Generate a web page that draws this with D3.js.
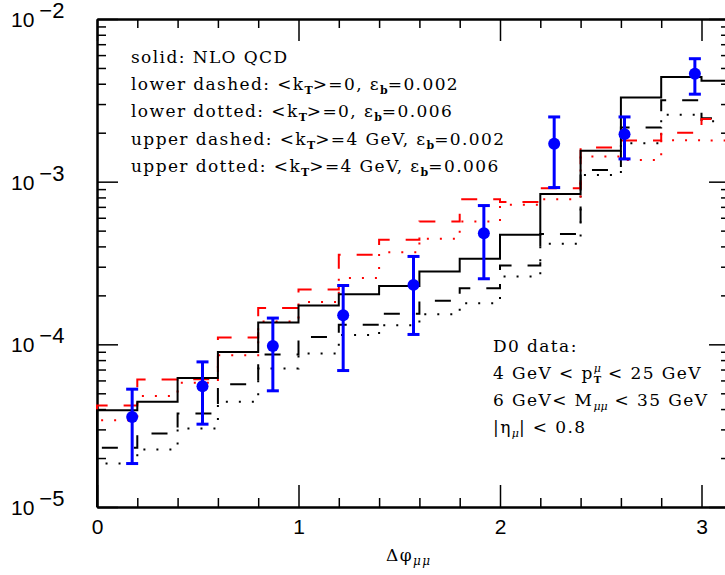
<!DOCTYPE html>
<html lang="en">
<head>
<meta charset="UTF-8">
<title>dphi mu mu</title>
<script src="https://d3js.org/d3.v7.min.js"></script>
<style>
  body { margin: 0; background: #fff; }
  .lbl { font-family: "Liberation Sans", Arial, sans-serif; font-size: 21px; }
  .txt { font-family: "DejaVu Serif", serif; font-size: 17px; letter-spacing: 1.4px; }
</style>
</head>
<body>
<div id="chart"></div>
<script>
// theory histograms, bins of 0.2 in dphi (last bin 3.0 - pi)
var binEdges = [0, 0.2, 0.4, 0.6, 0.8, 1.0, 1.2, 1.4, 1.6, 1.8, 2.0, 2.2, 2.4, 2.6, 2.8, 3.0];
var nloSolid    = [3.94e-5, 4.43e-5, 6.2e-5, 8.97e-5, 1.36e-4, 1.73e-4, 2.03e-4, 2.28e-4, 2.8e-4, 3.36e-4, 4.71e-4, 8.4e-4, 1.55e-3, 3.29e-3, 4.4e-3, 4.17e-3];
var lowerDashed = [2.31e-5, 2.83e-5, 3.76e-5, 5.69e-5, 8.65e-5, 1.11e-4, 1.32e-4, 1.54e-4, 1.85e-4, 2.21e-4, 3.05e-4, 4.77e-4, 1.18e-3, 2.15e-3, 3.17e-3, 2.45e-3];
var lowerDotted = [1.85e-5, 2.26e-5, 3.04e-5, 4.43e-5, 7.1e-5, 8.77e-5, 1.14e-4, 1.31e-4, 1.53e-4, 1.79e-4, 2.61e-4, 4.15e-4, 1.1e-3, 1.72e-3, 2.58e-3, 2.35e-3];
var upperDashed = [4.2e-5, 6.07e-5, 6.1e-5, 1.1e-4, 1.67e-4, 2.17e-4, 3.56e-4, 4.4e-4, 5.7e-4, 7.8e-4, 7.5e-4, 9.1e-4, 1.62e-3, 1.79e-3, 2.0e-3, 2.43e-3];
var upperDotted = [3.42e-5, 4.82e-5, 5.8e-5, 8.57e-5, 1.38e-4, 1.82e-4, 2.56e-4, 3.68e-4, 4.45e-4, 5.7e-4, 7.2e-4, 7.8e-4, 1.43e-3, 1.36e-3, 1.8e-3, 1.79e-3];

// D0 data, 9 bins of pi/9
var d0Center = [0.1745, 0.5236, 0.8727, 1.2217, 1.5708, 1.9199, 2.2689, 2.6180, 2.9671];
var d0Value  = [3.58e-5, 5.52e-5, 9.77e-5, 1.51e-4, 2.32e-4, 4.82e-4, 1.71e-3, 1.96e-3, 4.61e-3];
var d0High   = [5.3e-5, 7.8e-5, 1.45e-4, 2.3e-4, 3.47e-4, 7.13e-4, 2.5e-3, 2.5e-3, 5.7e-3];
var d0Low    = [1.85e-5, 3.23e-5, 5.18e-5, 6.9e-5, 1.15e-4, 2.53e-4, 9.2e-4, 1.38e-3, 3.45e-3];

var xMajor = [0, 1, 2, 3];
var yMajor = [1e-5, 1e-4, 1e-3, 1e-2];
var yExp = ["\u22125", "\u22124", "\u22123", "\u22122"];

var W = 725, H = 575;
var pLeft = 97, pTop = 19, pBottom = 507, pRight = 97 + Math.PI * 201.5;

var svg = d3.select("#chart").append("svg").attr("width", W).attr("height", H);

var x = d3.scaleLinear().domain([0, Math.PI]).range([pLeft, pRight]);
var y = d3.scaleLog().domain([1e-5, 1e-2]).range([pBottom, pTop]);

var xMinor = d3.range(0, 3.15, 0.2).filter(function(v){ return Math.abs(v - Math.round(v)) > 1e-6; });
var yMinor = [];
[-5, -4, -3].forEach(function(e){ for (var m = 2; m <= 9; m++) yMinor.push(m * Math.pow(10, e)); });

function styleAxis(g) {
  g.selectAll("path.domain").attr("stroke", "#000").attr("stroke-width", 2);
  g.selectAll(".tick line").attr("stroke", "#000").attr("stroke-width", 1.5);
}

// bottom
svg.append("g").attr("transform", "translate(0," + pBottom + ")")
  .call(d3.axisBottom(x).tickValues(xMajor).tickSizeInner(-22).tickSizeOuter(0).tickPadding(12).tickFormat(d3.format("d")))
  .call(styleAxis)
  .selectAll("text").attr("class", "lbl").attr("font-size", null).attr("font-family", null).attr("fill", "#000");
svg.append("g").attr("transform", "translate(0," + pBottom + ")")
  .call(d3.axisBottom(x).tickValues(xMinor).tickSizeInner(-9).tickSizeOuter(0).tickFormat(""))
  .call(styleAxis);
// top
svg.append("g").attr("transform", "translate(0," + pTop + ")")
  .call(d3.axisTop(x).tickValues(xMajor).tickSizeInner(-22).tickSizeOuter(0).tickFormat(""))
  .call(styleAxis);
svg.append("g").attr("transform", "translate(0," + pTop + ")")
  .call(d3.axisTop(x).tickValues(xMinor).tickSizeInner(-9).tickSizeOuter(0).tickFormat(""))
  .call(styleAxis);
// left
svg.append("g").attr("transform", "translate(" + pLeft + ",0)")
  .call(d3.axisLeft(y).tickValues(yMajor).tickSizeInner(-21).tickSizeOuter(0).tickFormat(""))
  .call(styleAxis);
svg.append("g").attr("transform", "translate(" + pLeft + ",0)")
  .call(d3.axisLeft(y).tickValues(yMinor).tickSizeInner(-9).tickSizeOuter(0).tickFormat(""))
  .call(styleAxis);
// right
svg.append("g").attr("transform", "translate(" + pRight + ",0)")
  .call(d3.axisRight(y).tickValues(yMajor).tickSizeInner(-21).tickSizeOuter(0).tickFormat(""))
  .call(styleAxis);
svg.append("g").attr("transform", "translate(" + pRight + ",0)")
  .call(d3.axisRight(y).tickValues(yMinor).tickSizeInner(-9).tickSizeOuter(0).tickFormat(""))
  .call(styleAxis);

// y labels 10^n
yMajor.forEach(function(v, i){
  var yy = y(v) + 8;
  var t = svg.append("text").attr("class", "lbl").attr("x", 11).attr("y", yy).attr("font-size", 22);
  t.append("tspan").text("10");
  t.append("tspan").attr("dy", -9).attr("dx", 5).attr("font-size", 22).text(yExp[i]);
});

// x title
var xt = svg.append("text").attr("class", "txt").attr("x", 386).attr("y", 561).attr("font-size", 18).attr("letter-spacing", 0);
xt.append("tspan").text("\u0394\u03c6");
xt.append("tspan").attr("font-size", 12).attr("font-style", "italic").attr("dy", 4).text("\u03bc\u03bc");

// histograms
var stepLine = d3.line()
  .x(function(d){ return x(d[0]); })
  .y(function(d){ return y(d[1]); })
  .curve(d3.curveStepAfter);

function histPoints(vals) {
  var pts = [[0, 1e-5]];
  vals.forEach(function(v, i){ pts.push([binEdges[i], v]); });
  pts.push([Math.PI, vals[vals.length - 1]]);
  return pts;
}

var curves = [
  { v: lowerDotted, c: "#000", dash: "2,11" },
  { v: lowerDashed, c: "#000", dash: "16,16" },
  { v: upperDotted, c: "#f00", dash: "2,11" },
  { v: upperDashed, c: "#f00", dash: "16,16" },
  { v: nloSolid, c: "#000", dash: null }
];
curves.forEach(function(cv){
  svg.append("path")
    .attr("d", stepLine(histPoints(cv.v)))
    .attr("fill", "none")
    .attr("stroke", cv.c)
    .attr("stroke-width", 2)
    .attr("stroke-dasharray", cv.dash);
});

// D0 points
var pts = svg.append("g");
d0Center.forEach(function(cx, i){
  var px = x(cx);
  pts.append("line").attr("x1", px).attr("x2", px).attr("y1", y(d0Low[i])).attr("y2", y(d0High[i]))
    .attr("stroke", "#00f").attr("stroke-width", 3);
  [d0Low[i], d0High[i]].forEach(function(e){
    pts.append("line").attr("x1", px - 6).attr("x2", px + 6).attr("y1", y(e)).attr("y2", y(e))
      .attr("stroke", "#00f").attr("stroke-width", 3);
  });
  pts.append("circle").attr("cx", px).attr("cy", y(d0Value[i])).attr("r", 6).attr("fill", "#00f");
});

// legend text
function subText(xp, yp, parts) {
  var t = svg.append("text").attr("class", "txt").attr("x", xp).attr("y", yp);
  parts.forEach(function(p){
    var s = t.append("tspan").text(p[0]);
    if (p[1] === "sub") s.attr("font-size", 11).attr("dy", 4).attr("font-weight", "bold").attr("letter-spacing", 0);
    if (p[1] === "back") s.attr("dy", -4);
  });
  return t;
}
var lx = 131;
subText(lx, 63, [["solid: NLO QCD"]]);
subText(lx, 90, [["lower dashed: <k"], ["T", "sub"], [">=0, \u03b5", "back"], ["b", "sub"], ["=0.002", "back"]]);
subText(lx, 117, [["lower dotted: <k"], ["T", "sub"], [">=0, \u03b5", "back"], ["b", "sub"], ["=0.006", "back"]]);
subText(lx, 145, [["upper dashed: <k"], ["T", "sub"], [">=4 GeV, \u03b5", "back"], ["b", "sub"], ["=0.002", "back"]]);
subText(lx, 172, [["upper dotted: <k"], ["T", "sub"], [">=4 GeV, \u03b5", "back"], ["b", "sub"], ["=0.006", "back"]]);

var dx0 = 493;
svg.append("text").attr("class", "txt").attr("x", dx0).attr("y", 352).text("D0 data:");
var t2 = svg.append("text").attr("class", "txt").attr("x", dx0).attr("y", 379);
t2.append("tspan").text("4 GeV < p");
t2.append("tspan").attr("font-size", 11).attr("font-style", "italic").attr("letter-spacing", 0).attr("dy", -7).text("\u03bc");
t2.append("tspan").attr("font-size", 10).attr("font-weight", "bold").attr("letter-spacing", 0).attr("dx", -7).attr("dy", 11).text("T");
t2.append("tspan").attr("dy", -4).text(" < 25 GeV");
var t3 = svg.append("text").attr("class", "txt").attr("x", dx0).attr("y", 406);
t3.append("tspan").text("6 GeV< M");
t3.append("tspan").attr("font-size", 11).attr("font-style", "italic").attr("letter-spacing", 0).attr("dy", 4).text("\u03bc\u03bc");
t3.append("tspan").attr("dy", -4).text(" < 35 GeV");
var t4 = svg.append("text").attr("class", "txt").attr("x", dx0).attr("y", 433);
t4.append("tspan").text("|\u03b7");
t4.append("tspan").attr("font-size", 11).attr("font-style", "italic").attr("letter-spacing", 0).attr("dy", 4).text("\u03bc");
t4.append("tspan").attr("dy", -4).text("| < 0.8");
</script>
</body>
</html>
